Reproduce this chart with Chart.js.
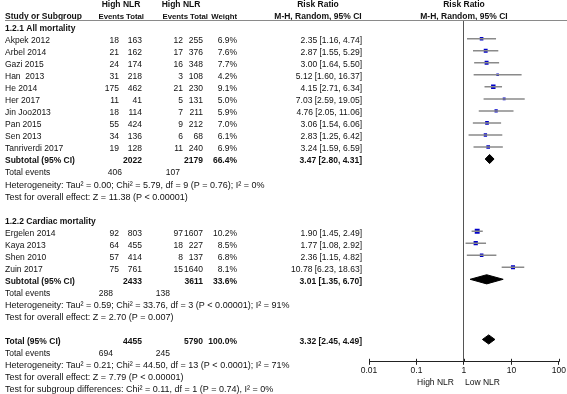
<!DOCTYPE html>
<html>
<head>
<meta charset="utf-8">
<script src="https://cdn.jsdelivr.net/npm/chart.js@4.4.1/dist/chart.umd.min.js"></script>
<style>
  html, body { margin: 0; padding: 0; background: #fff; }
  #wrap { width: 567px; height: 394px; }
</style>
</head>
<body>
<div id="wrap"><canvas id="forest" width="567" height="394"></canvas></div>
<script>
// 1.2.1 All mortality
const allStudies = ['Akpek 2012', 'Arbel 2014', 'Gazi 2015', 'Han  2013', 'He 2014', 'Her 2017', 'Jin Joo2013', 'Pan 2015', 'Sen 2013', 'Tanriverdi 2017'];
const allEventsHigh = [18, 21, 24, 31, 175, 11, 18, 55, 34, 19];
const allTotalHigh = [163, 162, 174, 218, 462, 41, 114, 424, 136, 128];
const allEventsLow = [12, 17, 16, 3, 21, 5, 7, 9, 6, 11];
const allTotalLow = [255, 376, 348, 108, 230, 131, 211, 212, 68, 240];
const allWeight = [6.9, 7.6, 7.7, 4.2, 9.1, 5.0, 5.9, 7.0, 6.1, 6.9];
const allRR = [2.35, 2.87, 3.00, 5.12, 4.15, 7.03, 4.76, 3.06, 2.83, 3.24];
const allLo = [1.16, 1.55, 1.64, 1.60, 2.71, 2.59, 2.05, 1.54, 1.25, 1.59];
const allHi = [4.74, 5.29, 5.50, 16.37, 6.34, 19.05, 11.06, 6.06, 6.42, 6.59];

// 1.2.2 Cardiac mortality
const cardStudies = ['Ergelen 2014', 'Kaya 2013', 'Shen 2010', 'Zuin 2017'];
const cardEventsHigh = [92, 64, 57, 75];
const cardTotalHigh = [803, 455, 414, 761];
const cardEventsLow = [97, 18, 8, 15];
const cardTotalLow = [1607, 227, 137, 1640];
const cardWeight = [10.2, 8.5, 6.8, 8.1];
const cardRR = [1.90, 1.77, 2.36, 10.78];
const cardLo = [1.45, 1.08, 1.15, 6.23];
const cardHi = [2.49, 2.92, 4.82, 18.63];

// subtotals / total: [all, cardiac, overall]
const pooledLabels = ['Subtotal (95% CI)', 'Subtotal (95% CI)', 'Total (95% CI)'];
const pooledTotalHigh = [2022, 2433, 4455];
const pooledTotalLow = [2179, 3611, 5790];
const pooledWeight = ['66.4%', '33.6%', '100.0%'];
const pooledRR = [3.47, 3.01, 3.32];
const pooledLo = [2.80, 1.35, 2.45];
const pooledHi = [4.31, 6.70, 4.49];
const pooledEventsHigh = [406, 288, 694];
const pooledEventsLow = [107, 138, 245];
const heterogeneity = [
  'Heterogeneity: Tau\u00b2 = 0.00; Chi\u00b2 = 5.79, df = 9 (P = 0.76); I\u00b2 = 0%',
  'Heterogeneity: Tau\u00b2 = 0.59; Chi\u00b2 = 33.76, df = 3 (P < 0.00001); I\u00b2 = 91%',
  'Heterogeneity: Tau\u00b2 = 0.21; Chi\u00b2 = 44.50, df = 13 (P < 0.0001); I\u00b2 = 71%'
];
const overallEffect = [
  'Test for overall effect: Z = 11.38 (P < 0.00001)',
  'Test for overall effect: Z = 2.70 (P = 0.007)',
  'Test for overall effect: Z = 7.79 (P < 0.00001)'
];
const subgroupTest = 'Test for subgroup differences: Chi\u00b2 = 0.11, df = 1 (P = 0.74), I\u00b2 = 0%';

const xTicks = [0.01, 0.1, 1, 10, 100];

// row numbers on the y scale
const allRows = allStudies.map((s, i) => i);
const cardRows = cardStudies.map((s, i) => 16 + i);
const pooledRows = [10, 20, 25];

const FONT = "'Liberation Sans', Arial, sans-serif";
const FS = 8.5;

function fmt(v) { return v.toFixed(2); }
function ciText(rr, lo, hi) { return fmt(rr) + ' [' + fmt(lo) + ', ' + fmt(hi) + ']'; }

const datasets = [];

// confidence interval whiskers
function addWhiskers(lo, hi, rows) {
  rows.forEach((r, i) => {
    datasets.push({
      data: [{ x: lo[i], y: r }, { x: hi[i], y: r }],
      showLine: true,
      borderColor: '#8a8a8a',
      borderWidth: 1.5,
      pointRadius: 0
    });
  });
}
addWhiskers(allLo, allHi, allRows);
addWhiskers(cardLo, cardHi, cardRows);

// study squares, sized by weight
const sqPoints = [], sqRadius = [];
allRR.forEach((v, i) => { sqPoints.push({ x: v, y: allRows[i] }); sqRadius.push((1 + 0.38 * allWeight[i]) / 1.414); });
cardRR.forEach((v, i) => { sqPoints.push({ x: v, y: cardRows[i] }); sqRadius.push((1 + 0.38 * cardWeight[i]) / 1.414); });
datasets.push({
  data: sqPoints,
  pointStyle: 'rect',
  pointRadius: sqRadius,
  backgroundColor: '#0000c8',
  borderColor: '#0000c8',
  borderWidth: 0,
  showLine: false
});

// pooled diamonds
const dh = 0.38;
pooledRows.forEach((r, i) => {
  datasets.push({
    data: [
      { x: pooledLo[i], y: r }, { x: pooledRR[i], y: r - dh },
      { x: pooledHi[i], y: r }, { x: pooledRR[i], y: r + dh },
      { x: pooledLo[i], y: r }
    ],
    showLine: true,
    fill: 'shape',
    tension: 0,
    backgroundColor: '#000',
    borderColor: '#000',
    borderWidth: 1,
    pointRadius: 0
  });
});

const textPlugin = {
  id: 'forestText',
  afterDraw(chart) {
    const ctx = chart.ctx;
    const xs = chart.scales.x, ys = chart.scales.y;
    const mid = (xs.left + xs.right) / 2;
    ctx.save();
    ctx.fillStyle = '#111';
    ctx.textBaseline = 'middle';
    function txt(s, x, row, align, bold, size) {
      ctx.font = (bold ? 'bold ' : '') + (size || FS) + 'px ' + FONT;
      ctx.textAlign = align;
      ctx.fillText(s, x, ys.getPixelForValue(row) + 2);
    }
    // headers
    txt('High NLR', 121, -3, 'center', true);
    txt('High NLR', 181, -3, 'center', true);
    txt('Risk Ratio', 318, -3, 'center', true);
    txt('Risk Ratio', mid, -3, 'center', true);
    txt('Study or Subgroup', 5, -2, 'left', true);
    txt('Events', 124, -2, 'right', true, 7.8);
    txt('Total', 144, -2, 'right', true, 7.8);
    txt('Events', 188, -2, 'right', true, 7.8);
    txt('Total', 208, -2, 'right', true, 7.8);
    txt('Weight', 237, -2, 'right', true, 7.8);
    txt('M-H, Random, 95% CI', 318, -2, 'center', true);
    txt('M-H, Random, 95% CI', mid, -2, 'center', true);
    ctx.strokeStyle = '#8a8a8a';
    ctx.lineWidth = 1;
    ctx.beginPath();
    ctx.moveTo(5, 20.5);
    ctx.lineTo(567, 20.5);
    ctx.stroke();

    function studyRows(names, e1, t1, e2, t2, w, rr, lo, hi, rows) {
      names.forEach((n, i) => {
        const r = rows[i];
        txt(n, 5, r, 'left');
        txt(String(e1[i]), 119, r, 'right');
        txt(String(t1[i]), 142, r, 'right');
        txt(String(e2[i]), 183, r, 'right');
        txt(String(t2[i]), 203, r, 'right');
        txt(w[i].toFixed(1) + '%', 237, r, 'right');
        txt(ciText(rr[i], lo[i], hi[i]), 362, r, 'right');
      });
    }
    function pooledBlock(i, evX1, evX2) {
      const r = pooledRows[i];
      txt(pooledLabels[i], 5, r, 'left', true);
      txt(String(pooledTotalHigh[i]), 142, r, 'right', true);
      txt(String(pooledTotalLow[i]), 203, r, 'right', true);
      txt(pooledWeight[i], 237, r, 'right', true);
      txt(ciText(pooledRR[i], pooledLo[i], pooledHi[i]), 362, r, 'right', true);
      txt('Total events', 5, r + 1, 'left');
      txt(String(pooledEventsHigh[i]), evX1, r + 1, 'right');
      txt(String(pooledEventsLow[i]), evX2, r + 1, 'right');
      txt(heterogeneity[i], 5, r + 2, 'left', false, 9);
      txt(overallEffect[i], 5, r + 3, 'left', false, 9);
    }

    txt('1.2.1 All mortality', 5, -1, 'left', true);
    studyRows(allStudies, allEventsHigh, allTotalHigh, allEventsLow, allTotalLow, allWeight, allRR, allLo, allHi, allRows);
    pooledBlock(0, 122, 180);

    txt('1.2.2 Cardiac mortality', 5, 15, 'left', true);
    studyRows(cardStudies, cardEventsHigh, cardTotalHigh, cardEventsLow, cardTotalLow, cardWeight, cardRR, cardLo, cardHi, cardRows);
    pooledBlock(1, 113, 170);

    pooledBlock(2, 113, 170);
    txt(subgroupTest, 5, 29, 'left', false, 9);

    // tick marks reaching above the axis
    ctx.strokeStyle = '#222';
    ctx.beginPath();
    xTicks.forEach(v => {
      const px = Math.round(xs.getPixelForValue(v)) + 0.5;
      ctx.moveTo(px, xs.top - 3);
      ctx.lineTo(px, xs.top);
    });
    ctx.stroke();

    // favours labels
    ctx.font = FS + 'px ' + FONT;
    ctx.textAlign = 'right';
    const one = xs.getPixelForValue(1);
    ctx.fillText('High NLR', one - 10, 383);
    ctx.textAlign = 'left';
    ctx.fillText('Low NLR', one + 1, 383);
    ctx.restore();
  }
};

new Chart(document.getElementById('forest').getContext('2d'), {
  type: 'scatter',
  data: { datasets: datasets },
  options: {
    responsive: false,
    animation: false,
    layout: { padding: { left: 369, right: 6, top: 20, bottom: 17 } },
    plugins: { legend: { display: false }, tooltip: { enabled: false } },
    scales: {
      x: {
        type: 'logarithmic',
        min: 0.01,
        max: 100,
        afterBuildTicks: ax => { ax.ticks = xTicks.map(v => ({ value: v })); },
        ticks: {
          autoSkip: false,
          maxRotation: 0,
          padding: 1,
          color: '#111',
          font: { family: FONT, size: FS },
          callback: v => String(v)
        },
        grid: {
          drawOnChartArea: true,
          color: c => (c.tick && c.tick.value === 1) ? '#555' : 'rgba(0,0,0,0)',
          tickColor: '#222',
          tickLength: 3,
          lineWidth: 1
        },
        border: { display: true, color: '#222', width: 1 }
      },
      y: {
        type: 'linear',
        min: -1.558,
        max: 26.858,
        reverse: true,
        display: false
      }
    }
  },
  plugins: [textPlugin]
});
</script>
</body>
</html>
